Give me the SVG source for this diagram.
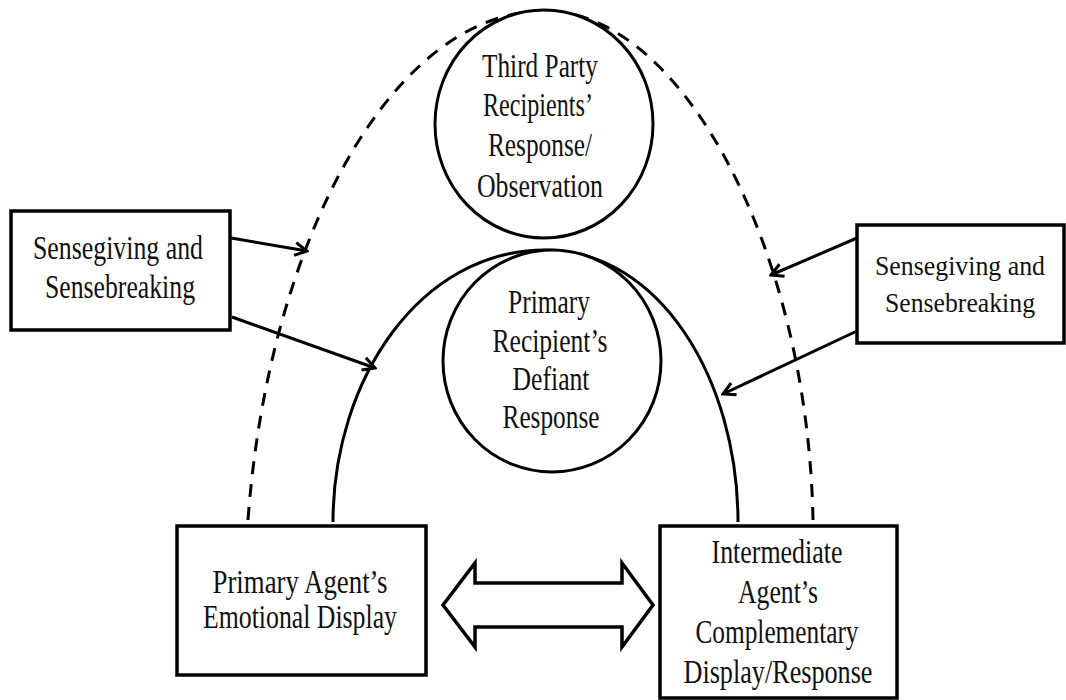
<svg xmlns="http://www.w3.org/2000/svg" width="1066" height="700" viewBox="0 0 1066 700">
<style>
.box{fill:#fff;stroke:#000;stroke-width:3.5}
.circ{fill:#fff;stroke:#000;stroke-width:3}
.t{font-family:"Liberation Serif","Times New Roman",serif;font-size:33px;fill:#111;text-anchor:middle}
.ts{font-size:28px}
.solid{fill:none;stroke:#000;stroke-width:3}
.dash{fill:none;stroke:#000;stroke-width:3;stroke-dasharray:13 10}
.arr{fill:none;stroke:#000;stroke-width:3;marker-end:url(#ah)}
</style>
<defs>
<marker id="ah" viewBox="0 0 16 16" refX="14" refY="8" markerWidth="16" markerHeight="16" markerUnits="userSpaceOnUse" orient="auto">
<path d="M2,1.5 L14,8 L2,14.5" fill="none" stroke="#000" stroke-width="3"/>
</marker>
</defs>
<rect width="1066" height="700" fill="#fff"/>
<g id="connectors">
<path class="dash" d="M248,520 C268,245 390,11 545,11 C682,11 808,250 813,520"/>
<path class="solid" d="M333,522 C333,380 420,250 545,250 C660,250 738,380 738,522"/>
<line class="arr" x1="231" y1="238" x2="307" y2="251"/>
<line class="arr" x1="232" y1="317" x2="375" y2="368"/>
<line class="arr" x1="857" y1="238" x2="771" y2="275"/>
<line class="arr" x1="857" y1="331" x2="723" y2="394"/>
<polygon points="443,605 475,563 475,583 622,583 622,563 653,605 622,647 622,627 475,627 475,647" fill="#fff" stroke="#000" stroke-width="3.5" stroke-linejoin="miter"/>
</g>
<g id="third-party">
<ellipse class="circ" cx="544" cy="124" rx="109" ry="114"/>
<text class="t" x="540" y="77" textLength="116" lengthAdjust="spacingAndGlyphs">Third Party</text>
<text class="t" x="538" y="116" textLength="110" lengthAdjust="spacingAndGlyphs">Recipients’</text>
<text class="t" x="540" y="156" textLength="104" lengthAdjust="spacingAndGlyphs">Response/</text>
<text class="t" x="540" y="197" textLength="126" lengthAdjust="spacingAndGlyphs">Observation</text>
</g>
<g id="primary-recipient">
<ellipse class="circ" cx="552" cy="361" rx="109" ry="111"/>
<text class="t" x="549" y="313" textLength="82" lengthAdjust="spacingAndGlyphs">Primary</text>
<text class="t" x="550" y="352" textLength="115" lengthAdjust="spacingAndGlyphs">Recipient’s</text>
<text class="t" x="551" y="390" textLength="77" lengthAdjust="spacingAndGlyphs">Defiant</text>
<text class="t" x="551" y="428" textLength="97" lengthAdjust="spacingAndGlyphs">Response</text>
</g>
<g id="sense-left">
<rect class="box" x="11" y="211" width="219" height="119"/>
<text class="t" x="118" y="259" textLength="170" lengthAdjust="spacingAndGlyphs">Sensegiving and</text>
<text class="t" x="120" y="298" textLength="150" lengthAdjust="spacingAndGlyphs">Sensebreaking</text>
</g>
<g id="sense-right">
<rect class="box" x="857" y="225" width="207" height="118"/>
<text class="t ts" x="960" y="275" textLength="170" lengthAdjust="spacingAndGlyphs">Sensegiving and</text>
<text class="t ts" x="960" y="312" textLength="150" lengthAdjust="spacingAndGlyphs">Sensebreaking</text>
</g>
<g id="primary-agent">
<rect class="box" x="177" y="526" width="249" height="149"/>
<text class="t" x="300" y="593" textLength="175" lengthAdjust="spacingAndGlyphs">Primary Agent’s</text>
<text class="t" x="300" y="628" textLength="194" lengthAdjust="spacingAndGlyphs">Emotional Display</text>
</g>
<g id="intermediate-agent">
<rect class="box" x="660" y="526" width="237" height="172"/>
<text class="t" x="777" y="563" textLength="131" lengthAdjust="spacingAndGlyphs">Intermediate</text>
<text class="t" x="778" y="603" textLength="80" lengthAdjust="spacingAndGlyphs">Agent’s</text>
<text class="t" x="777" y="643" textLength="163" lengthAdjust="spacingAndGlyphs">Complementary</text>
<text class="t" x="778" y="683" textLength="189" lengthAdjust="spacingAndGlyphs">Display/Response</text>
</g>
</svg>
